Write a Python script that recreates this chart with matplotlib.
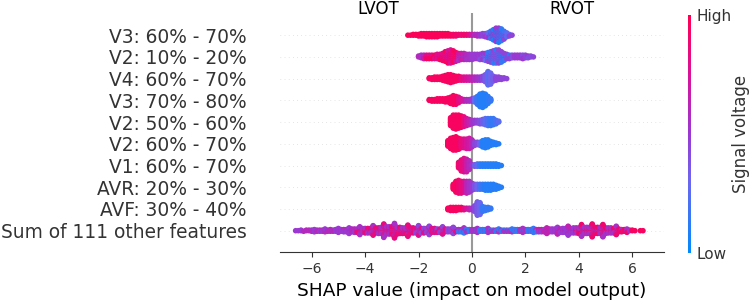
import matplotlib
matplotlib.use("Agg")
import matplotlib.pyplot as plt
import numpy as np
from matplotlib.colors import LinearSegmentedColormap

# Feature names, top row first
features = ["V3: 60% - 70%", "V2: 10% - 20%", "V4: 60% - 70%", "V3: 70% - 80%",
            "V2: 50% - 60%", "V2: 60% - 70%", "V1: 60% - 70%", "AVR: 20% - 30%",
            "AVF: 30% - 40%", "Sum of 111 other features"]

# Each row: SHAP value of the first bin, bin step, number of samples per bin,
# feature value per bin (0 = low, 1 = high) read off the swarm.
# Rows where two colour groups are mixed get a second feature value list.
start_v3_60, step_v3_60 = -2.4, 0.1
counts_v3_60 = [1, 1, 2, 2, 3, 4, 4, 5, 5, 5, 5, 5, 4, 4, 4, 4, 3, 3, 3, 2,
                2, 2, 2, 2, 2, 2, 3, 3, 4, 5, 7, 10, 14, 18, 19, 16, 11, 6, 3, 1]
colors_v3_60 = ([0.97] * 17 + [0.95, 0.93, 0.9, 0.88, 0.85, 0.82]
                + [0.75, 0.7, 0.6, 0.55, 0.5, 0.45, 0.4]
                + [0.3, 0.15, 0.1, 0.1, 0.1, 0.12, 0.18, 0.25, 0.3, 0.35])
mix_v3_60 = ([0.97] * 17 + [0.9] * 6 + [0.8, 0.75, 0.7, 0.6, 0.55, 0.5, 0.5]
             + [0.5, 0.5, 0.55, 0.5, 0.5, 0.45, 0.45, 0.45, 0.45, 0.45])

start_v2_10, step_v2_10 = -2.0, 0.1
counts_v2_10 = [2, 4, 5, 5, 5, 5, 5, 6, 7, 9, 12, 15, 16, 14, 11, 9, 8, 8, 7, 7,
                7, 6, 6, 7, 8, 9, 11, 13, 15, 16, 16, 13, 9, 6, 5, 4, 4, 4, 4, 5,
                4, 3, 2, 1]
colors_v2_10 = ([0.6, 0.65, 0.7] + [0.8] * 7 + [0.95] * 5 + [0.75, 0.7, 0.65, 0.6, 0.55]
                + [0.5, 0.5, 0.45, 0.4, 0.35, 0.3] + [0.15] * 9 + [0.4, 0.42, 0.45] * 3)
mix_v2_10 = ([0.5, 0.55, 0.6] + [0.95] * 7 + [0.75] * 5 + [0.55] * 5
             + [0.5] * 6 + [0.45] * 9 + [0.5] * 9)

start_v4_60, step_v4_60 = -1.6, 0.1
counts_v4_60 = [2, 3, 4, 4, 4, 6, 8, 10, 11, 9, 7, 6, 5, 5, 5, 5, 5, 5, 5, 5,
                6, 10, 18, 15, 7, 5, 4, 3, 2, 1]
colors_v4_60 = ([0.95] * 12 + [0.85, 0.8, 0.75, 0.7, 0.65] + [0.6, 0.55, 0.5, 0.45]
                + [0.35, 0.25, 0.3, 0.35] + [0.45] * 5)

start_v3_70, step_v3_70 = -1.6, 0.1
counts_v3_70 = [2, 3, 3, 4, 4, 4, 5, 6, 9, 12, 11, 8, 4, 3, 3, 3, 4, 6, 11, 17,
                19, 16, 10, 4]
colors_v3_70 = ([0.95] * 11 + [0.85, 0.75, 0.7, 0.6, 0.55, 0.5]
                + [0.3, 0.15, 0.1, 0.1, 0.1, 0.12, 0.15])

start_v2_50, step_v2_50 = -0.8, 0.1
counts_v2_50 = [10, 16, 17, 16, 14, 12, 9, 7, 5, 4, 4, 5, 6, 8, 9, 9, 8, 5, 2]
colors_v2_50 = ([0.95] * 5 + [0.85, 0.75, 0.65, 0.55] + [0.5, 0.45, 0.4, 0.35]
                + [0.25, 0.2, 0.15, 0.15, 0.2, 0.25])

start_v2_60, step_v2_60 = -0.9, 0.1
counts_v2_60 = [8, 14, 17, 18, 15, 12, 12, 13, 14, 10, 5, 4, 5, 9, 11, 10, 6, 4, 3, 1]
colors_v2_60 = [0.95] * 5 + [0.85, 0.8, 0.75, 0.7, 0.6] + [0.45, 0.4, 0.3] + [0.1] * 7

start_v1_60, step_v1_60 = -0.5, 0.1
counts_v1_60 = [8, 15, 18, 17, 12, 2, 3, 4, 4, 4, 4, 4, 4, 4, 4, 3, 1]
colors_v1_60 = [0.9, 0.85, 0.8, 0.7, 0.6, 0.5, 0.35, 0.25, 0.15] + [0.1] * 8

start_avr_20, step_avr_20 = -0.7, 0.1
counts_avr_20 = [6, 12, 14, 13, 12, 13, 12, 8, 6, 6, 6, 6, 7, 7, 7, 6, 5, 3, 1]
colors_avr_20 = [0.95, 0.95, 0.9, 0.85, 0.8, 0.65, 0.55, 0.5, 0.4, 0.3, 0.2, 0.15] + [0.1] * 7

start_avf_30, step_avf_30 = -0.9, 0.1
counts_avf_30 = [3, 5, 5, 5, 4, 4, 3, 2, 3, 3, 8, 18, 16, 7, 5, 4, 2]
colors_avf_30 = [0.95] * 6 + [0.85, 0.75, 0.65, 0.55, 0.45, 0.35, 0.3] + [0.15] * 4

start_sum, step_sum = -6.6, 0.1
counts_sum = [1, 1, 2, 1, 2, 2, 3, 2, 3, 3,
              3, 3, 3, 4, 3, 4, 4, 4, 5, 5,
              6, 6, 7, 7, 8, 8, 9, 9, 9, 9,
              10, 11, 12, 13, 14, 14, 14, 13, 13, 12,
              11, 11, 10, 10, 10, 9, 9, 9, 9, 8,
              8, 8, 8, 7, 7, 7, 6, 6, 6, 6,
              5, 5, 5, 5, 5, 4, 4, 4, 4, 4,
              4, 4, 4, 3, 3, 3, 3, 3, 3, 3,
              3, 3, 4, 4, 4, 4, 4, 4, 4, 4,
              5, 5, 5, 5, 6, 6, 6, 6, 7, 7,
              8, 8, 9, 9, 10, 10, 11, 11, 12, 12,
              12, 12, 12, 12, 12, 11, 11, 10, 10, 9,
              7, 6, 5, 4, 3, 2, 2, 1, 0, 1,
              1]
colors_sum = ([0.5] * 23 + [0.85] * 22 + [0.8] * 16 + [0.15] * 30
              + [0.5] * 14 + [0.9] * 21 + [0.95] * 5)
mix_sum = ([0.6] * 23 + [0.55] * 22 + [0.45] * 16 + [0.55] * 30
           + [0.65] * 14 + [0.55] * 21 + [0.95] * 5)

rows = [
    (start_v3_60, step_v3_60, counts_v3_60, colors_v3_60, mix_v3_60),
    (start_v2_10, step_v2_10, counts_v2_10, colors_v2_10, mix_v2_10),
    (start_v4_60, step_v4_60, counts_v4_60, colors_v4_60, None),
    (start_v3_70, step_v3_70, counts_v3_70, colors_v3_70, None),
    (start_v2_50, step_v2_50, counts_v2_50, colors_v2_50, None),
    (start_v2_60, step_v2_60, counts_v2_60, colors_v2_60, None),
    (start_v1_60, step_v1_60, counts_v1_60, colors_v1_60, None),
    (start_avr_20, step_avr_20, counts_avr_20, colors_avr_20, None),
    (start_avf_30, step_avf_30, counts_avf_30, colors_avf_30, None),
    (start_sum, step_sum, counts_sum, colors_sum, mix_sum),
]

red_blue = LinearSegmentedColormap.from_list(
    "red_blue", [(0.0, (0.0, 0.541, 0.984)), (0.3, (0.42, 0.40, 0.94)),
                 (0.5, (0.60, 0.22, 0.82)), (0.75, (0.85, 0.07, 0.60)),
                 (1.0, (1.0, 0.0, 0.318))])


def swarm_offsets(vals, row_height=0.4):
    # same stacking as the shap beeswarm
    nbins = 100
    quant = np.round(nbins * (vals - vals.min()) / (vals.max() - vals.min() + 1e-8))
    inds = np.argsort(quant, kind="stable")
    ys = np.zeros(len(vals))
    layer = 0
    last_bin = -1
    for ind in inds:
        if quant[ind] != last_bin:
            layer = 0
        ys[ind] = np.ceil(layer / 2) * ((layer % 2) * 2 - 1)
        layer += 1
        last_bin = quant[ind]
    ys *= 0.9 * (row_height / np.max(ys + 1))
    return ys


fig = plt.figure(figsize=(7.5, 3.04), dpi=100)
ax = fig.add_axes([0.3728, 0.1697, 0.513, 0.786])

n = len(features)
ax.axvline(0, color="#999999", lw=1.5, zorder=-1)
for i, (start, step, counts, colors, colors2) in enumerate(rows):
    pos = n - 1 - i
    shaps = []
    cvals = []
    for k, c in enumerate(counts):
        for j in range(c):
            shaps.append(round(start + k * step, 3))
            if colors2 is not None and (j // 2 + k // 3) % 2 == 1:
                cvals.append(colors2[k])
            else:
                cvals.append(colors[k])
    shaps = np.array(shaps)
    ys = swarm_offsets(shaps)
    ax.axhline(pos, color="#cccccc", lw=0.5, dashes=(1, 5), zorder=-1)
    ax.scatter(shaps, pos + ys, c=cvals, cmap=red_blue, vmin=0, vmax=1,
               s=16, linewidth=0, zorder=3)

ax.set_xlim(-7.2, 7.2)
ax.set_ylim(-1, n)
ax.set_yticks(range(n - 1, -1, -1))
ax.set_yticklabels(features, fontsize=13.4, color="#333333")
ax.tick_params(axis="y", length=0, pad=24)
ax.tick_params(axis="x", labelsize=10, color="#333333", labelcolor="#333333")
for side in ["top", "right", "left"]:
    ax.spines[side].set_visible(False)
ax.spines["bottom"].set_color("#333333")
ax.set_xlabel("SHAP value (impact on model output)", fontsize=13.3)

ax.text(-3.5, 1.02, "LVOT", transform=ax.get_xaxis_transform(),
        ha="center", va="center", fontsize=12)
ax.text(3.75, 1.02, "RVOT", transform=ax.get_xaxis_transform(),
        ha="center", va="center", fontsize=12)

cax = fig.add_axes([688 / 750, 1 - 253 / 304, 3 / 750, 238 / 304])
sm = plt.cm.ScalarMappable(cmap=red_blue, norm=plt.Normalize(0, 1))
cb = fig.colorbar(sm, cax=cax, ticks=[0, 1])
cb.set_ticklabels(["Low", "High"])
cb.ax.tick_params(labelsize=11, length=0, pad=4, labelcolor="#333333")
cb.set_label("Signal voltage", size=12, labelpad=0, color="#333333")
cb.outline.set_visible(False)

fig.savefig("out.png", dpi=100)
